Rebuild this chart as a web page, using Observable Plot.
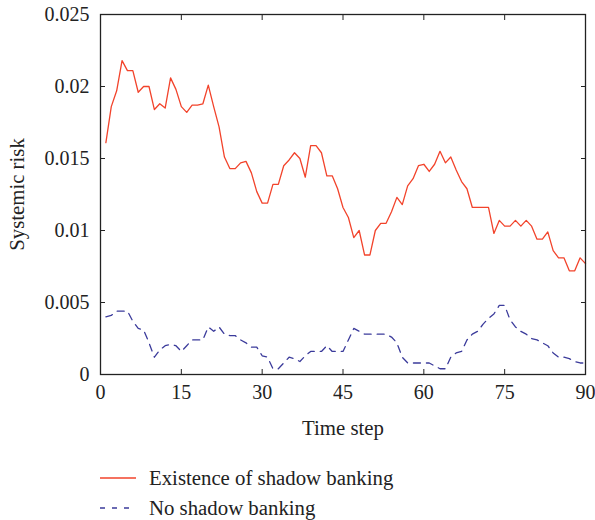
<!DOCTYPE html>
<html>
<head>
<meta charset="utf-8">
<script src="https://cdn.jsdelivr.net/npm/d3@7"></script>
<script src="https://cdn.jsdelivr.net/npm/@observablehq/plot@0.6"></script>
<style>
  html, body { margin: 0; padding: 0; background: #fff; }
  #wrap { position: relative; width: 595px; height: 520px; font-family: "Liberation Serif", "DejaVu Serif", serif; }
  #legend { position: absolute; left: 100px; top: 463px; font-size: 20.8px; color: #222; }
  .row { display: flex; align-items: center; height: 30px; }
  .row svg { margin-right: 13px; }
  #chart g[aria-label="x-axis label"] text, #chart g[aria-label="y-axis label"] text { font-size: 20.8px; }
</style>
</head>
<body>
<div id="wrap"><div id="chart"></div><div id="legend"></div></div>
<script>
const steps = d3.range(1, 91);
const withShadow = [
  0.0161, 0.0186, 0.0197, 0.0218, 0.0211, 0.0211, 0.0196, 0.0200, 0.0200, 0.0184,
  0.0188, 0.0185, 0.0206, 0.0198, 0.0186, 0.0182, 0.0187, 0.0187, 0.0188, 0.0201,
  0.0186, 0.0172, 0.0151, 0.0143, 0.0143, 0.0147, 0.0148, 0.0140, 0.0127, 0.0119,
  0.0119, 0.0132, 0.0132, 0.0145, 0.0149, 0.0154, 0.0150, 0.0137, 0.0159, 0.0159,
  0.0154, 0.0138, 0.0138, 0.0129, 0.0116, 0.0109, 0.0095, 0.0100, 0.0083, 0.0083,
  0.0100, 0.0105, 0.0105, 0.0113, 0.0123, 0.0118, 0.0131, 0.0136, 0.0145, 0.0146,
  0.0141, 0.0146, 0.0155, 0.0147, 0.0151, 0.0142, 0.0134, 0.0129, 0.0116, 0.0116,
  0.0116, 0.0116, 0.0098, 0.0107, 0.0103, 0.0103, 0.0107, 0.0103, 0.0107, 0.0103,
  0.0094, 0.0094, 0.0099, 0.0086, 0.0081, 0.0081, 0.0072, 0.0072, 0.0081, 0.0077
];
const noShadow = [
  0.0040, 0.0041, 0.0044, 0.0044, 0.0044, 0.0037, 0.0032, 0.0031, 0.0022, 0.0012,
  0.0017, 0.0020, 0.0021, 0.0020, 0.0016, 0.0020, 0.0024, 0.0024, 0.0024, 0.0033,
  0.0030, 0.0033, 0.0028, 0.0027, 0.0027, 0.0024, 0.0022, 0.0019, 0.0019, 0.0013,
  0.0012, 0.0004, 0.0004, 0.0008, 0.0012, 0.0011, 0.0009, 0.0013, 0.0016, 0.0016,
  0.0016, 0.0020, 0.0016, 0.0016, 0.0016, 0.0024, 0.0032, 0.0030, 0.0028, 0.0028,
  0.0028, 0.0028, 0.0028, 0.0026, 0.0022, 0.0012, 0.0008, 0.0008, 0.0008, 0.0008,
  0.0008, 0.0006, 0.0004, 0.0004, 0.0012, 0.0015, 0.0016, 0.0024, 0.0028, 0.0030,
  0.0035, 0.0039, 0.0042, 0.0048, 0.0048, 0.0038, 0.0033, 0.0030, 0.0028, 0.0025,
  0.0024, 0.0022, 0.0020, 0.0015, 0.0012, 0.0012, 0.0011, 0.0009, 0.0008, 0.0008
];
const xTicks = [0, 15, 30, 45, 60, 75, 90];
const yTicks = [0, 0.005, 0.01, 0.015, 0.02, 0.025];
const yTickLabels = ["0", "0.005", "0.01", "0.015", "0.02", "0.025"];
const seriesNames = ["Existence of shadow banking", "No shadow banking"];
const seriesColors = ["#f2432b", "#3b3b9b"];

const redData = steps.map((t, i) => ({t, v: withShadow[i]}));
const blueData = steps.map((t, i) => ({t, v: noShadow[i]}));

const chart = Plot.plot({
  width: 595,
  height: 440,
  marginLeft: 100,
  marginRight: 10,
  marginTop: 14,
  marginBottom: 66,
  style: {fontFamily: "Liberation Serif, DejaVu Serif, serif", fontSize: "20px", color: "#222", background: "#fff"},
  x: {domain: [0, 90]},
  y: {domain: [0, 0.025]},
  marks: [
    Plot.line(redData, {x: "t", y: "v", stroke: seriesColors[0], strokeWidth: 1.3}),
    Plot.line(blueData, {x: "t", y: "v", stroke: seriesColors[1], strokeWidth: 1.3, strokeDasharray: "7,6"}),
    Plot.frame({stroke: "#222", strokeWidth: 1.3}),
    Plot.axisX(xTicks, {anchor: "bottom", tickSize: -5, tickPadding: 15, label: "Time step", labelAnchor: "center", labelArrow: "none", labelOffset: 60, stroke: "#222"}),
    Plot.axisX(xTicks, {anchor: "top", tickSize: -5, tickFormat: () => "", label: null, stroke: "#222"}),
    Plot.axisY(yTicks, {anchor: "left", tickSize: -5, tickPadding: 16, tickFormat: (d, i) => yTickLabels[i], label: "Systemic risk", labelAnchor: "center", labelArrow: "none", labelOffset: 91, stroke: "#222"}),
    Plot.axisY(yTicks, {anchor: "right", tickSize: -5, tickFormat: () => "", label: null, stroke: "#222"})
  ]
});
document.getElementById("chart").appendChild(chart);

const legend = document.getElementById("legend");
seriesNames.forEach((name, i) => {
  const row = document.createElement("div");
  row.className = "row";
  const dash = i === 1 ? 'stroke-dasharray="5,7"' : "";
  row.innerHTML = `<svg width="36" height="4"><line x1="0" y1="2" x2="36" y2="2" stroke="${seriesColors[i]}" stroke-width="1.5" ${dash}></line></svg><span>${name}</span>`;
  legend.appendChild(row);
});
</script>
</body>
</html>
